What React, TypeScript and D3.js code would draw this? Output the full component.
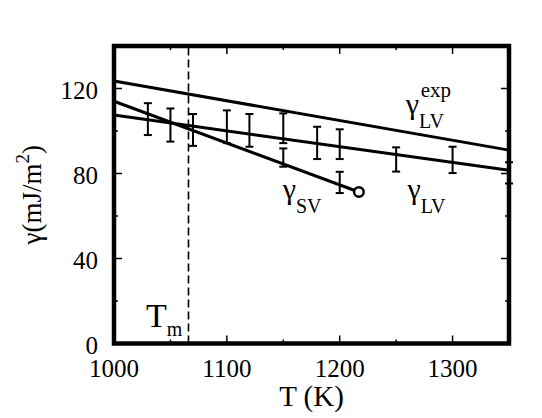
import { useEffect, useRef } from 'react';
import * as d3 from 'd3';

// LV data points (with error bars)
const lvTemps = [1030, 1050, 1070, 1100, 1120, 1150, 1180, 1200, 1250, 1300, 1350];
const lvMeans = [105.6, 102.8, 100.5, 102, 100.3, 101.3, 94.4, 93.8, 86.6, 86.4, 80.3];
const lvErrs = [7.5, 7.8, 7.5, 7.7, 7.7, 7, 7.6, 7, 5.7, 6.2, 5];

// SV data points
const svTemps = [1150, 1200];
const svMeans = [87.5, 75.8];
const svErrs = [4.3, 5];

// fitted straight lines (end points)
const lvExpT = [1000, 1350];
const lvExpVals = [123.5, 91];
const lvFitT = [1000, 1350];
const lvFitVals = [107.5, 81.5];
const svFitT = [1000, 1217];
const svFitVals = [114, 71.3];

const meltingT = 1066;

const xTicks = [1000, 1100, 1200, 1300];
const xMinor = [1050, 1150, 1250];
const yTicks = [0, 40, 80, 120];
const yMinor = [20, 60, 100];

const W = 542;
const H = 418;
const FONT = '"Liberation Serif", "Times New Roman", serif';

export default function App() {
  const svgRef = useRef<SVGSVGElement>(null);

  useEffect(() => {
    if (!svgRef.current) return;
    const svg = d3.select(svgRef.current);
    svg.selectAll('*').remove();

    const x = d3.scaleLinear().domain([1000, 1350]).range([114, 509]);
    const y = d3.scaleLinear().domain([0, 140]).range([343.5, 46]);
    const [x0, x1] = x.range();
    const [y0, y1] = y.range();

    const g = svg.append('g');

    // ticks on all four sides, pointing inward
    const tick = (v: number, len: number, isX: boolean) => {
      if (isX) {
        g.append('line').attr('x1', x(v)).attr('x2', x(v)).attr('y1', y0).attr('y2', y0 - len);
        g.append('line').attr('x1', x(v)).attr('x2', x(v)).attr('y1', y1).attr('y2', y1 + len);
      } else {
        g.append('line').attr('y1', y(v)).attr('y2', y(v)).attr('x1', x0).attr('x2', x0 + len);
        g.append('line').attr('y1', y(v)).attr('y2', y(v)).attr('x1', x1).attr('x2', x1 - len);
      }
    };
    xTicks.forEach(v => tick(v, 8, true));
    xMinor.forEach(v => tick(v, 4, true));
    yTicks.forEach(v => tick(v, 8, false));
    yMinor.forEach(v => tick(v, 4, false));
    g.selectAll('line').attr('stroke', '#000').attr('stroke-width', 1.5);

    // melting temperature
    g.append('line')
      .attr('x1', x(meltingT)).attr('x2', x(meltingT))
      .attr('y1', y0).attr('y2', y1)
      .attr('stroke', '#000')
      .attr('stroke-width', 1.6)
      .attr('stroke-dasharray', '8,4');

    // error bars
    const errBars = (ts: number[], ms: number[], es: number[]) => {
      ts.forEach((t, i) => {
        const cx = x(t);
        const top = y(ms[i] + es[i]);
        const bot = y(ms[i] - es[i]);
        g.append('line').attr('x1', cx).attr('x2', cx).attr('y1', top).attr('y2', bot);
        g.append('line').attr('x1', cx - 4).attr('x2', cx + 4).attr('y1', top).attr('y2', top);
        g.append('line').attr('x1', cx - 4).attr('x2', cx + 4).attr('y1', bot).attr('y2', bot);
      });
    };
    errBars(lvTemps, lvMeans, lvErrs);
    errBars(svTemps, svMeans, svErrs);
    g.selectAll('line:not([stroke])').attr('stroke', '#000').attr('stroke-width', 2);

    // fitted lines
    const line = d3.line<[number, number]>().x(d => x(d[0])).y(d => y(d[1]));
    [
      d3.zip(lvExpT, lvExpVals),
      d3.zip(lvFitT, lvFitVals),
      d3.zip(svFitT, svFitVals),
    ].forEach(pts => {
      g.append('path')
        .attr('d', line(pts as [number, number][]))
        .attr('fill', 'none')
        .attr('stroke', '#000')
        .attr('stroke-width', 3);
    });

    // open circle at the end of SV line
    g.append('circle')
      .attr('cx', x(svFitT[1]))
      .attr('cy', y(svFitVals[1]))
      .attr('r', 4.8)
      .attr('fill', '#fff')
      .attr('stroke', '#000')
      .attr('stroke-width', 2.5);

    // frame
    g.append('rect')
      .attr('x', x0).attr('y', y1)
      .attr('width', x1 - x0).attr('height', y0 - y1)
      .attr('fill', 'none')
      .attr('stroke', '#000')
      .attr('stroke-width', 4.5);

    // tick labels
    xTicks.forEach(v => {
      svg.append('text')
        .attr('x', x(v)).attr('y', 377)
        .attr('text-anchor', 'middle')
        .attr('font-family', FONT).attr('font-size', 25)
        .text(v);
    });
    yTicks.forEach(v => {
      svg.append('text')
        .attr('x', 98).attr('y', y(v) + 10)
        .attr('text-anchor', 'end')
        .attr('font-family', FONT).attr('font-size', 25)
        .text(v);
    });

    // axis titles
    svg.append('text')
      .attr('x', (x0 + x1) / 2).attr('y', 406)
      .attr('text-anchor', 'middle')
      .attr('font-family', FONT).attr('font-size', 29)
      .text('T (K)');

    const yl = svg.append('text')
      .attr('transform', `translate(41,${(y0 + y1) / 2}) rotate(-90)`)
      .attr('text-anchor', 'middle')
      .attr('font-family', FONT).attr('font-size', 27);
    yl.append('tspan').text('γ(mJ/m');
    yl.append('tspan').attr('font-size', 19).attr('dy', -12).text('2');
    yl.append('tspan').attr('dy', 12).text(')');

    // curve labels
    const label = (t: number, v: number, main: string, sub: string, sup?: string) => {
      const txt = svg.append('text')
        .attr('x', x(t)).attr('y', y(v))
        .attr('font-family', FONT).attr('font-size', 30);
      txt.append('tspan').text(main);
      if (sup) {
        const sx = x(t) + 15;
        svg.append('text')
          .attr('x', sx).attr('y', y(v) - 17)
          .attr('font-family', FONT).attr('font-size', 21)
          .text(sup);
      }
      txt.append('tspan').attr('font-size', 20).attr('dy', 14).text(sub);
    };
    label(1149.5, 68, 'γ', 'SV');
    label(1260, 68, 'γ', 'LV');
    label(1258.5, 108, 'γ', 'LV', 'exp');

    // Tm label
    const tm = svg.append('text')
      .attr('x', 146).attr('y', 326.7)
      .attr('font-family', FONT).attr('font-size', 34);
    tm.append('tspan').text('T');
    tm.append('tspan').attr('font-size', 20).attr('dy', 9).text('m');
  }, []);

  return (
    <svg
      ref={svgRef}
      width={W}
      height={H}
      style={{ position: 'absolute', left: 0, top: 0, background: '#fff' }}
    />
  );
}
